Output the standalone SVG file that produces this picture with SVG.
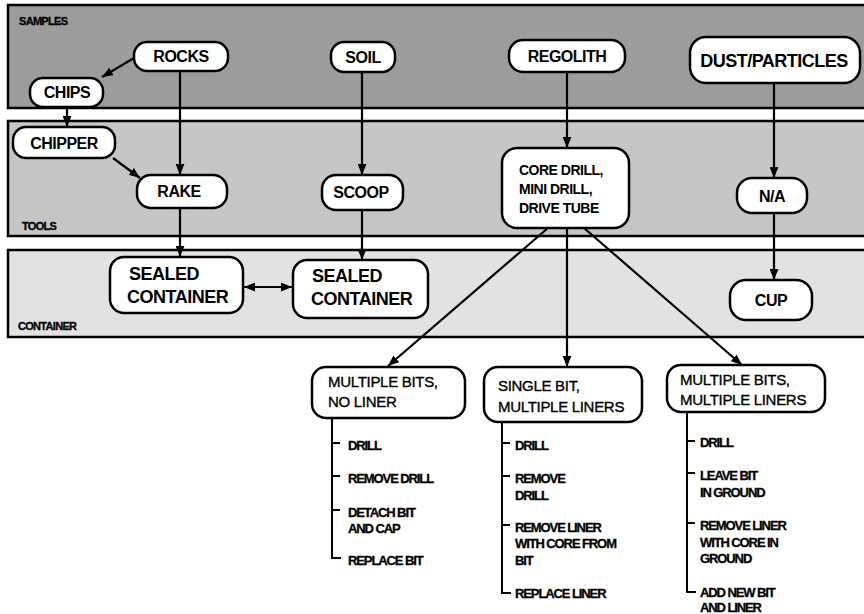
<svg xmlns="http://www.w3.org/2000/svg" width="864" height="614" viewBox="0 0 864 614">
<defs>
<marker id="ah" viewBox="0 0 10 8" refX="10" refY="4" markerWidth="11" markerHeight="9" markerUnits="userSpaceOnUse" orient="auto-start-reverse">
<path d="M0,0 L10,4 L0,8 z" fill="#000"/>
</marker>
<style>
.band{stroke:#000;stroke-width:2.5}
.node rect{fill:#fff;stroke:#000;stroke-width:2.5}
.lbl{font-family:"Liberation Sans",Arial,sans-serif;font-weight:bold;font-size:16px;letter-spacing:-0.5px;fill:#000}
.big{font-size:18px}
.mid{font-size:14px}
.reg{font-family:"Liberation Sans",Arial,sans-serif;font-weight:normal;font-size:15px;letter-spacing:-0.3px;fill:#000;stroke:#000;stroke-width:0.35}
.item{font-family:"Liberation Sans",Arial,sans-serif;font-weight:bold;font-size:13px;letter-spacing:-1.1px;fill:#000;stroke:#000;stroke-width:0.3}
.bandlbl{font-family:"Liberation Sans",Arial,sans-serif;font-weight:bold;font-size:11px;letter-spacing:-0.7px;fill:#000;stroke:#000;stroke-width:0.3}
.conn line{stroke:#000;stroke-width:2.2;fill:none}
.tree path{stroke:#000;stroke-width:2;fill:none}
</style>
</defs>
<rect width="864" height="614" fill="#fff"/>
<g id="band-samples">
<rect class="band" x="8" y="5" width="870" height="103" fill="#9c9c9c"/>
<text class="bandlbl" x="19" y="25">SAMPLES</text>
</g>
<g id="band-tools">
<rect class="band" x="8" y="121" width="870" height="115" fill="#c6c6c6"/>
<text class="bandlbl" x="22" y="230">TOOLS</text>
</g>
<g id="band-container">
<rect class="band" x="8" y="250" width="870" height="87" fill="#e2e2e2"/>
<text class="bandlbl" x="18" y="330">CONTAINER</text>
</g>
<g class="conn" id="connectors">
<line x1="134" y1="58" x2="102" y2="77" marker-end="url(#ah)"/>
<line x1="67" y1="107" x2="67" y2="127" marker-end="url(#ah)"/>
<line x1="113" y1="158" x2="140" y2="178" marker-end="url(#ah)"/>
<line x1="180" y1="71" x2="180" y2="175" marker-end="url(#ah)"/>
<line x1="180" y1="208" x2="180" y2="257" marker-end="url(#ah)"/>
<line x1="362" y1="72" x2="362" y2="175" marker-end="url(#ah)"/>
<line x1="362" y1="210" x2="362" y2="260" marker-end="url(#ah)"/>
<line x1="244" y1="287" x2="292" y2="287" marker-start="url(#ah)" marker-end="url(#ah)"/>
<line x1="567" y1="72" x2="567" y2="148" marker-end="url(#ah)"/>
<line x1="548" y1="228" x2="388" y2="366" marker-end="url(#ah)"/>
<line x1="567" y1="228" x2="567" y2="367" marker-end="url(#ah)"/>
<line x1="584" y1="228" x2="742" y2="365" marker-end="url(#ah)"/>
<line x1="774" y1="83" x2="774" y2="178" marker-end="url(#ah)"/>
<line x1="774" y1="213" x2="774" y2="280" marker-end="url(#ah)"/>
</g>
<g class="node" id="rocks"><rect x="134" y="42" width="94" height="29" rx="13"/><text class="lbl" x="181" y="62" text-anchor="middle">ROCKS</text></g>
<g class="node" id="chips"><rect x="30" y="78" width="73" height="29" rx="13"/><text class="lbl" x="67" y="98" text-anchor="middle">CHIPS</text></g>
<g class="node" id="soil"><rect x="331" y="42" width="64" height="30" rx="13"/><text class="lbl" x="363" y="63" text-anchor="middle">SOIL</text></g>
<g class="node" id="regolith"><rect x="509" y="40" width="116" height="32" rx="14"/><text class="lbl" x="567" y="62" text-anchor="middle">REGOLITH</text></g>
<g class="node" id="dust"><rect x="690" y="37" width="170" height="46" rx="16"/><text class="lbl big" x="774" y="67" text-anchor="middle">DUST/PARTICLES</text></g>
<g class="node" id="chipper"><rect x="13" y="127" width="102" height="31" rx="13"/><text class="lbl" x="64" y="149" text-anchor="middle">CHIPPER</text></g>
<g class="node" id="rake"><rect x="137" y="175" width="90" height="33" rx="14"/><text class="lbl" x="179" y="197" text-anchor="middle">RAKE</text></g>
<g class="node" id="scoop"><rect x="322" y="175" width="81" height="35" rx="14"/><text class="lbl" x="361" y="198" text-anchor="middle">SCOOP</text></g>
<g class="node" id="coredrill"><rect x="502" y="148" width="127" height="80" rx="15"/>
<text class="lbl mid" x="519" y="175">CORE DRILL,</text>
<text class="lbl mid" x="519" y="194">MINI DRILL,</text>
<text class="lbl mid" x="519" y="213">DRIVE TUBE</text></g>
<g class="node" id="na"><rect x="737" y="178" width="70" height="35" rx="15"/><text class="lbl" x="772" y="202" text-anchor="middle" letter-spacing="0.5">N/A</text></g>
<g class="node" id="sealed1"><rect x="110" y="257" width="133" height="56" rx="14"/>
<text class="lbl big" x="129" y="280">SEALED</text>
<text class="lbl big" x="127" y="303">CONTAINER</text></g>
<g class="node" id="sealed2"><rect x="293" y="260" width="135" height="58" rx="14"/>
<text class="lbl big" x="312" y="282">SEALED</text>
<text class="lbl big" x="311" y="305">CONTAINER</text></g>
<g class="node" id="cup"><rect x="730" y="280" width="82" height="40" rx="16"/><text class="lbl" x="771" y="306" text-anchor="middle">CUP</text></g>
<g class="node" id="mbnl"><rect x="312" y="367" width="153" height="51" rx="14"/>
<text class="reg" x="328" y="387">MULTIPLE BITS,</text>
<text class="reg" x="328" y="407">NO LINER</text></g>
<g class="node" id="sbml"><rect x="484" y="367" width="158" height="55" rx="14"/>
<text class="reg" x="498" y="391">SINGLE BIT,</text>
<text class="reg" x="498" y="412">MULTIPLE LINERS</text></g>
<g class="node" id="mbml"><rect x="667" y="365" width="158" height="47" rx="14"/>
<text class="reg" x="680" y="385">MULTIPLE BITS,</text>
<text class="reg" x="680" y="405">MULTIPLE LINERS</text></g>
<g class="tree" id="list1">
<path d="M332,418 V558 H341 M332,443 H340 M332,476 H340 M332,510 H340"/>
<text class="item" x="348" y="450">DRILL</text>
<text class="item" x="348" y="483">REMOVE DRILL</text>
<text class="item" x="348" y="517">DETACH BIT</text>
<text class="item" x="348" y="533">AND CAP</text>
<text class="item" x="348" y="565">REPLACE BIT</text>
</g>
<g class="tree" id="list2">
<path d="M502,422 V593 H511 M502,443 H510 M502,476 H510 M502,525 H510"/>
<text class="item" x="515" y="450">DRILL</text>
<text class="item" x="515" y="483">REMOVE</text>
<text class="item" x="515" y="500">DRILL</text>
<text class="item" x="515" y="532">REMOVE LINER</text>
<text class="item" x="515" y="548">WITH CORE FROM</text>
<text class="item" x="515" y="565">BIT</text>
<text class="item" x="515" y="598">REPLACE LINER</text>
</g>
<g class="tree" id="list3">
<path d="M687,412 V592 H696 M687,441 H695 M687,473 H695 M687,523 H695"/>
<text class="item" x="700" y="447">DRILL</text>
<text class="item" x="700" y="480">LEAVE BIT</text>
<text class="item" x="700" y="497">IN GROUND</text>
<text class="item" x="700" y="530">REMOVE LINER</text>
<text class="item" x="700" y="547">WITH CORE IN</text>
<text class="item" x="700" y="563">GROUND</text>
<text class="item" x="700" y="597">ADD NEW BIT</text>
<text class="item" x="700" y="612">AND LINER</text>
</g>
</svg>
